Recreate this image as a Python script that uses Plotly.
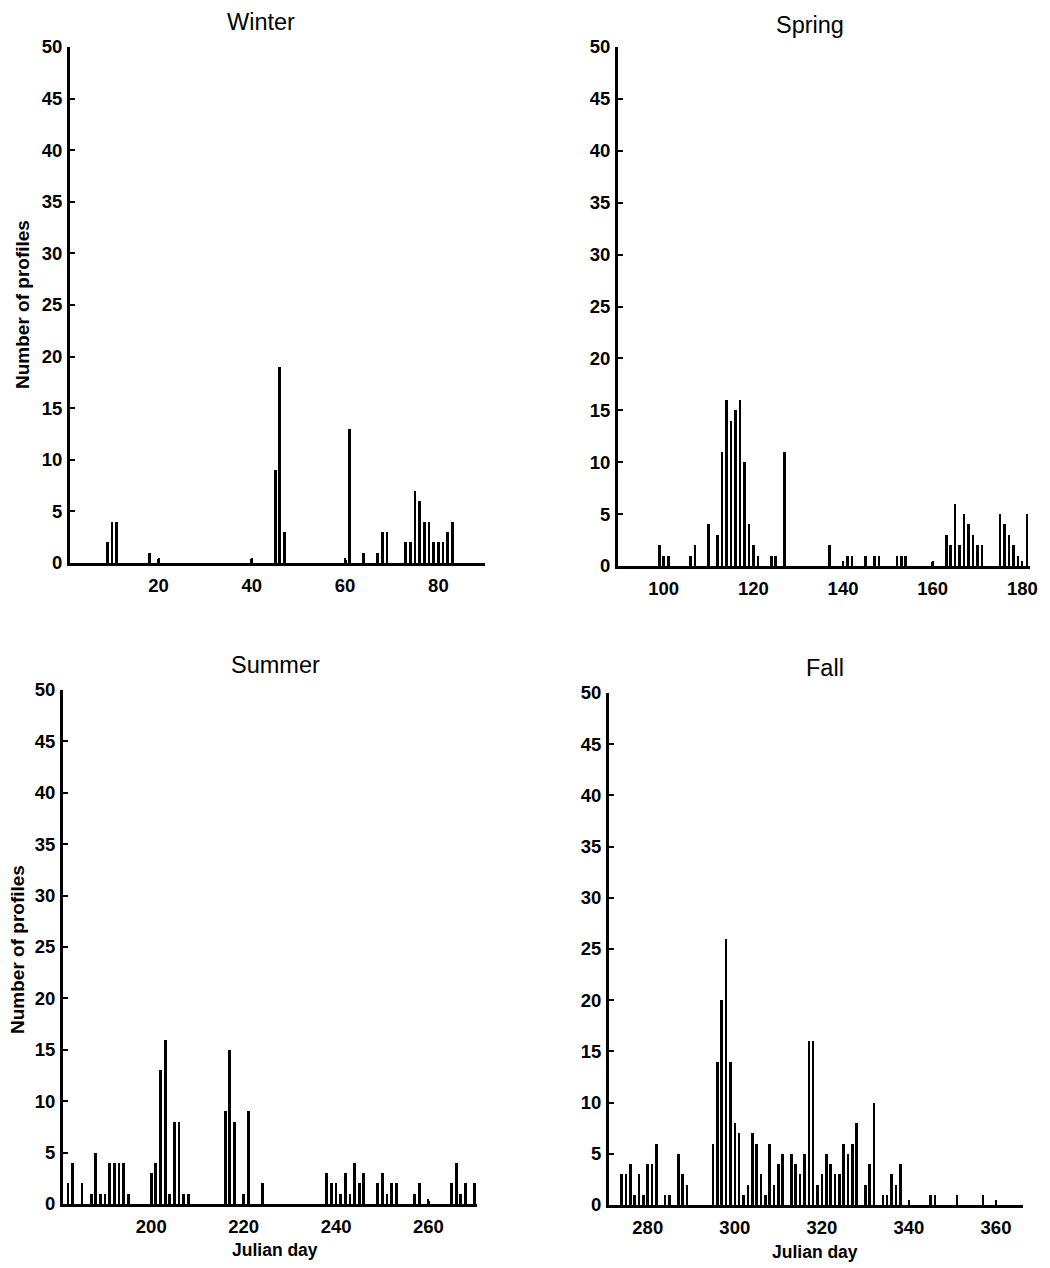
import plotly.graph_objects as go

W, H = 1050, 1268

# ---------------- data ----------------
winter_days = [9, 10, 11, 18, 20, 40, 45, 46, 47, 60, 61, 64, 67, 68, 69,
               73, 74, 75, 76, 77, 78, 79, 80, 81, 82, 83]
winter_vals = [2, 4, 4, 1, 0.4, 0.4, 9, 19, 3, 0.3, 13, 1, 1, 3, 3,
               2, 2, 7, 6, 4, 4, 2, 2, 2, 3, 4]

spring_days = [99, 100, 101, 106, 107, 110, 112, 113, 114, 115, 116, 117, 118, 119,
               120, 121, 124, 125, 127, 137, 140, 141, 142, 145, 147, 148, 152, 153,
               154, 160, 163, 164, 165, 166, 167, 168, 169, 170, 171, 175, 176, 177,
               178, 179, 181]
spring_vals = [2, 1, 1, 1, 2, 4, 3, 11, 16, 14, 15, 16, 10, 4,
               2, 1, 1, 1, 11, 2, 0.4, 1, 1, 1, 1, 1, 1, 1,
               1, 0.4, 3, 2, 6, 2, 5, 4, 3, 2, 2, 5, 4, 3,
               2, 1, 5]

summer_days = [182, 183, 185, 187, 188, 189, 190, 191, 192, 193, 194, 195, 200, 201,
               202, 203, 204, 205, 206, 207, 208, 216, 217, 218, 220, 221, 224, 238,
               239, 240, 241, 242, 243, 244, 245, 246, 249, 250, 251, 252, 253, 257,
               258, 260, 265, 266, 267, 268, 270]
summer_vals = [2, 4, 2, 1, 5, 1, 1, 4, 4, 4, 4, 1, 3, 4,
               13, 16, 1, 8, 8, 1, 1, 9, 15, 8, 1, 9, 2, 3,
               2, 2, 1, 3, 1, 4, 2, 3, 2, 3, 1, 2, 2, 1,
               2, 0.3, 2, 4, 1, 2, 2]

fall_days = [274, 275, 276, 277, 278, 279, 280, 281, 282, 284, 285, 287, 288, 289,
             295, 296, 297, 298, 299, 300, 301, 302, 303, 304, 305, 306, 307, 308,
             309, 310, 311, 313, 314, 315, 316, 317, 318, 319, 320, 321, 322, 323,
             324, 325, 326, 327, 328, 330, 331, 332, 334, 335, 336, 337, 338, 340,
             345, 346, 351, 357, 360]
fall_vals = [3, 3, 4, 1, 3, 1, 4, 4, 6, 1, 1, 5, 3, 2,
             6, 14, 20, 26, 14, 8, 7, 1, 2, 7, 6, 3, 1, 6,
             2, 4, 5, 5, 4, 3, 5, 16, 16, 2, 3, 5, 4, 3,
             3, 6, 5, 6, 8, 2, 4, 10, 1, 1, 3, 2, 4, 0.3,
             1, 1, 1, 1, 0.3]

titles = ["Winter", "Spring", "Summer", "Fall"]
x_ticks = [[20, 40, 60, 80], [100, 120, 140, 160, 180],
           [200, 220, 240, 260], [280, 300, 320, 340, 360]]
x_ranges = [[1, 90], [89.8, 181.7], [180.9, 270.5], [271.1, 366.2]]
y_ticks = list(range(0, 51, 5))

# ---------------- layout geometry (pixels) ----------------
boxes = [(70, 485, 47, 563), (618, 1030, 47, 566),
         (63, 477, 690, 1204), (609, 1023, 693, 1205)]
title_pos = [(261, 22), (810, 25), (275, 665), (825, 668)]

FONT = "Liberation Sans, Arial, Helvetica, sans-serif"

fig = go.Figure()
series = [(winter_days, winter_vals), (spring_days, spring_vals),
          (summer_days, summer_vals), (fall_days, fall_vals)]

layout = dict(width=W, height=H, margin=dict(l=0, r=0, t=0, b=0, autoexpand=False),
              paper_bgcolor="white", plot_bgcolor="white", showlegend=False,
              bargap=0, template="none")
annotations = []
for i, ((d, v), box) in enumerate(zip(series, boxes)):
    n = i + 1
    sfx = "" if n == 1 else str(n)
    fig.add_trace(go.Bar(x=d, y=v, width=0.6,
                         marker=dict(color="black", line=dict(width=0)),
                         xaxis="x" + sfx, yaxis="y" + sfx, hoverinfo="x+y"))
    l, r, t, b = box
    common = dict(showline=True, linecolor="black", linewidth=3, ticks="inside",
                  tickcolor="black", tickwidth=2, ticklen=5, showgrid=False,
                  zeroline=False, automargin=False,
                  tickfont=dict(family=FONT, size=18.5, color="black", weight="bold"))
    layout["xaxis" + sfx] = dict(domain=[l / W, r / W], range=x_ranges[i],
                                 tickvals=x_ticks[i], anchor="y" + sfx,
                                 ticklabelstandoff=4, **common)
    layout["yaxis" + sfx] = dict(domain=[1 - b / H, 1 - t / H], range=[0, 50],
                                 tickvals=y_ticks, anchor="x" + sfx,
                                 ticklabelstandoff=1, **common)
    tx, ty = title_pos[i]
    annotations.append(dict(text=titles[i], x=tx / W, y=1 - ty / H, xref="paper",
                            yref="paper", showarrow=False, xanchor="center",
                            yanchor="middle",
                            font=dict(family=FONT, size=23.5, color="black")))

for (x, y) in [(22, 305), (17, 950)]:
    annotations.append(dict(text="Number of profiles", x=x / W, y=1 - y / H,
                            xref="paper", yref="paper", showarrow=False,
                            textangle=-90, xanchor="center", yanchor="middle",
                            font=dict(family=FONT, size=19, color="black", weight="bold")))
for (x, y) in [(275, 1250), (815, 1252)]:
    annotations.append(dict(text="Julian day", x=x / W, y=1 - y / H,
                            xref="paper", yref="paper", showarrow=False,
                            xanchor="center", yanchor="middle",
                            font=dict(family=FONT, size=17.5, color="black", weight="bold")))

layout["annotations"] = annotations
fig.update_layout(**layout)
fig.write_html("out.html", config={"responsive": False, "displayModeBar": False},
               post_script="document.body.style.margin='0';document.body.style.overflow='hidden';")
